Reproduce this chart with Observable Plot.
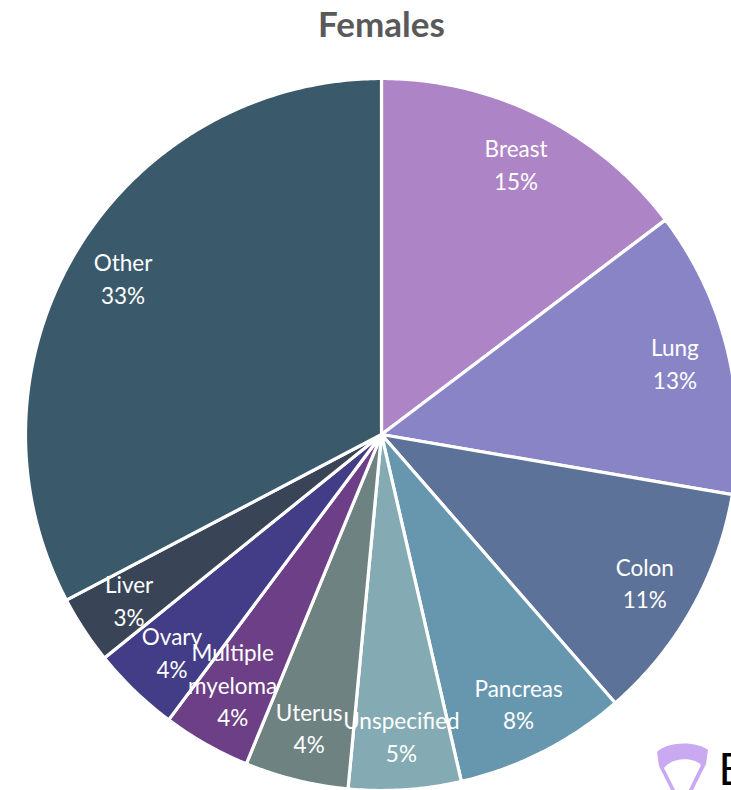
<!DOCTYPE html>
<html>
<head>
<meta charset="utf-8">
<script src="https://cdn.jsdelivr.net/npm/d3@7"></script>
<script src="https://cdn.jsdelivr.net/npm/@observablehq/plot@0.6"></script>
<style>
  html, body { margin: 0; padding: 0; background: #fff; overflow: hidden; width: 731px; height: 790px; }
  #wrap { position: relative; width: 731px; height: 790px; }
  #logo { position: absolute; left: 0; top: 0; pointer-events: none; }
</style>
</head>
<body>
<div id="wrap"></div>
<script>
const categories = ["Breast", "Lung", "Colon", "Pancreas", "Unspecified", "Uterus", "Multiple myeloma", "Ovary", "Liver", "Other"];
const shares = [14.7, 13.0, 10.9, 7.8, 5.1, 4.7, 4.0, 4.0, 3.1, 32.7];
const labels = ["Breast\n15%", "Lung\n13%", "Colon\n11%", "Pancreas\n8%", "Unspecified\n5%", "Uterus\n4%", "Multiple\nmyeloma\n4%", "Ovary\n4%", "Liver\n3%", "Other\n33%"];
const colors = ["#AD84C5", "#8884C6", "#5D7298", "#6797AF", "#84ABB4", "#6F8282", "#6C3F86", "#423D86", "#394557", "#3A5A6C"];

const R = 356;       // pie radius in px units
const labelR = 302;  // label radius

const pie = d3.pie().sort(null).value(d => d.share)(categories.map((c, i) => ({cat: c, share: shares[i], label: labels[i]})));

const pts = [];
const labs = [];
pie.forEach(a => {
  const cat = a.data.cat;
  pts.push({cat, x: 0, y: 0});
  const n = Math.max(2, Math.ceil((a.endAngle - a.startAngle) / 0.01));
  for (let k = 0; k <= n; k++) {
    const t = a.startAngle + (a.endAngle - a.startAngle) * k / n;
    pts.push({cat, x: R * Math.sin(t), y: -R * Math.cos(t)});
  }
  const m = (a.startAngle + a.endAngle) / 2;
  labs.push({cat, label: a.data.label, x: labelR * Math.sin(m), y: -labelR * Math.cos(m)});
});

const isThreeLine = d => d.label.split("\n").length > 2;

const chart = Plot.plot({
  width: 731,
  height: 790,
  margin: 0,
  x: {domain: [-381, 350], range: [0, 731], axis: null},
  y: {domain: [-434, 356], range: [0, 790], axis: null},
  color: {domain: categories, range: colors},
  style: {background: "#fff", fontFamily: "Lato, 'Open Sans', sans-serif"},
  marks: [
    Plot.line(pts, {x: "x", y: "y", z: "cat", fill: "cat", stroke: "#fff", strokeWidth: 3.2, curve: "linear-closed", strokeLinejoin: "round"}),
    Plot.text(labs.filter(d => !isThreeLine(d)), {x: "x", y: "y", text: "label", fill: "#fff", fontSize: 22.5, lineHeight: 1.45, textAnchor: "middle", dy: -1}),
    Plot.text(labs.filter(isThreeLine), {x: "x", y: "y", text: "label", fill: "#fff", fontSize: 22.5, lineHeight: 1.45, textAnchor: "middle", dy: -14}),
    Plot.text(["Females"], {frameAnchor: "top", dy: 12, text: d => d, fontSize: 35, fontWeight: "bold", fill: "#595959", x: () => 0, lineAnchor: "top"}),
    Plot.text(["B"], {x: () => 350, y: () => 336, text: d => d, fontSize: 44, fill: "#000", textAnchor: "start", dx: -13})
  ]
});
document.getElementById("wrap").appendChild(chart);

// decorative logo shape (bottom-right)
const ns = "http://www.w3.org/2000/svg";
const logo = document.createElementNS(ns, "svg");
logo.setAttribute("id", "logo");
logo.setAttribute("width", 731);
logo.setAttribute("height", 790);
const p = document.createElementNS(ns, "path");
p.setAttribute("d", "M657,752 C668,741 697,741 708,750 L706,764 L688,800 L676,800 L659,766 Z M664,768 L680,800 L684,800 L701,765 C694,757 672,757 664,768 Z");
p.setAttribute("fill", "#C9A9F2");
p.setAttribute("fill-rule", "evenodd");
logo.appendChild(p);
document.getElementById("wrap").appendChild(logo);
</script>
</body>
</html>
